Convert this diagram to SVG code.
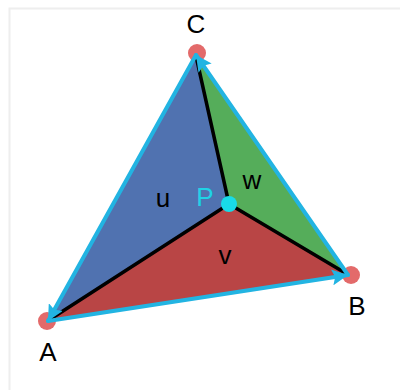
<svg xmlns="http://www.w3.org/2000/svg" width="400" height="390" viewBox="0 0 400 390">
<style>
.lbl{font-family:"Liberation Sans",Arial,sans-serif;font-size:26px;fill:#000;text-anchor:middle}
.vtx{fill:#e36a6a}
.edge{stroke:#22b4e2;stroke-width:4;fill:none;stroke-linecap:round}
.spoke{stroke:#000;stroke-width:3.5;stroke-linecap:round}
</style>
<defs>
<marker id="arr" markerUnits="userSpaceOnUse" markerWidth="18" markerHeight="16" refX="16" refY="8" orient="auto">
<path d="M0,0 L16,8 L0,16 L3,8 Z" fill="#22b4e2"/>
</marker>
</defs>
<rect x="0" y="0" width="400" height="390" fill="#fff"/>
<path d="M9.5,390 V8.5 H400" fill="none" stroke="#eeeeee" stroke-width="2"/>
<g id="vertices">
<circle class="vtx" cx="197" cy="53" r="9"/>
<circle class="vtx" cx="47" cy="321" r="9"/>
<circle class="vtx" cx="351" cy="275" r="9"/>
</g>
<g id="regions">
<polygon id="u" points="48,321 229,204 196,55" fill="#5072b0"/>
<polygon id="w" points="348,275 229,204 196,55" fill="#55ad5a"/>
<polygon id="v" points="48,321 229,204 348,275" fill="#b94545"/>
</g>
<g id="connectors">
<line class="spoke" x1="229" y1="204" x2="196" y2="56"/>
<line class="spoke" x1="229" y1="204" x2="49" y2="320"/>
<line class="spoke" x1="229" y1="204" x2="347" y2="274"/>
<line class="edge" x1="196" y1="55" x2="48" y2="321" marker-end="url(#arr)"/>
<line class="edge" x1="48" y1="321" x2="348" y2="275" marker-end="url(#arr)"/>
<line class="edge" x1="348" y1="275" x2="196" y2="55" marker-end="url(#arr)"/>
</g>
<g id="P">
<circle cx="229" cy="204" r="8" fill="#18dbe8"/>
<text x="205" y="206" class="lbl" style="fill:#1fd3e6">P</text>
</g>
<g id="labels">
<text x="196" y="33" class="lbl">C</text>
<text x="48" y="361" class="lbl">A</text>
<text x="357" y="315" class="lbl">B</text>
<text x="163" y="207" class="lbl">u</text>
<text x="225" y="264" class="lbl">v</text>
<text x="252" y="189" class="lbl">w</text>
</g>
</svg>
